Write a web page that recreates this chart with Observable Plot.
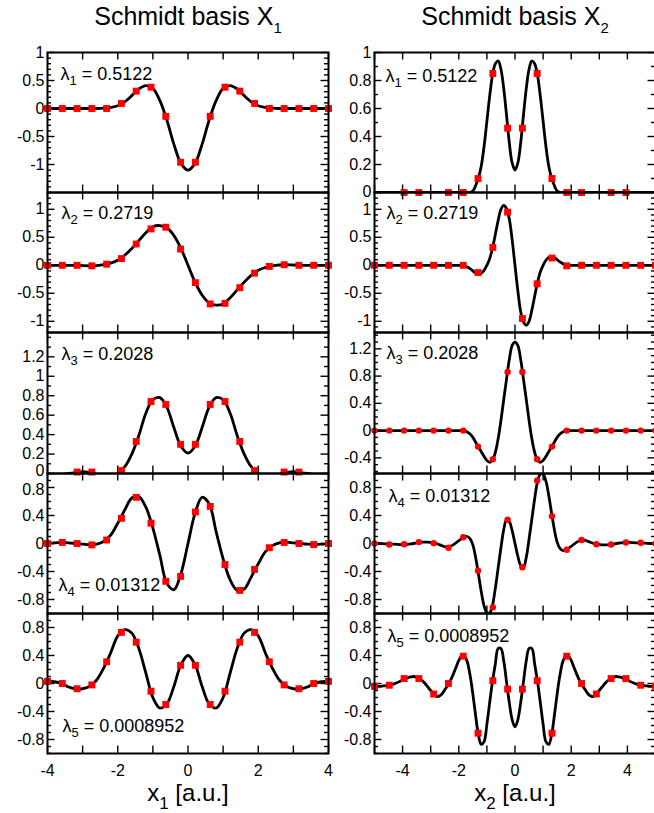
<!DOCTYPE html>
<html>
<head>
<meta charset="utf-8">
<script src="https://cdn.jsdelivr.net/npm/d3@7"></script>
<script src="https://cdn.jsdelivr.net/npm/@observablehq/plot@0.6"></script>
<style>
html,body{margin:0;padding:0;background:#fff;}
#root{position:relative;width:654px;height:813px;overflow:hidden;background:#fff;font-family:"Liberation Sans","DejaVu Sans",Arial,sans-serif;color:#000;}
.panel{position:absolute;}
.lbl{position:absolute;line-height:20px;text-align:center;white-space:nowrap;width:300px;}
.lbl .s{position:relative;}
</style>
</head>
<body>
<div id="root"></div>
<script>
// ---------- data ----------
const TITLES = ["Schmidt basis X", "Schmidt basis X"];
const AXIS_TITLES = ["x", "x"];
const LAMBDA_VALUES = ["0.5122", "0.2719", "0.2028", "0.01312", "0.0008952"];

const X_LABELS = [-4, -2, 0, 2, 4];
const LX_TICKS = [-4, -3, -2, -1, 0, 1, 2, 3, 4];
const RX_TICKS = [-5, -4, -3, -2, -1, 0, 1, 2, 3, 4, 5];

const L1_YLABELS = [-1, -0.5, 0, 0.5, 1];
const L2_YLABELS = [-1, -0.5, 0, 0.5, 1];
const L3_YLABELS = [0, 0.2, 0.4, 0.6, 0.8, 1, 1.2];
const L4_YLABELS = [-0.8, -0.4, 0, 0.4, 0.8];
const L5_YLABELS = [-0.8, -0.4, 0, 0.4, 0.8];
const R1_YLABELS = [0, 0.2, 0.4, 0.6, 0.8, 1];
const R2_YLABELS = [-1, -0.5, 0, 0.5, 1];
const R3_YLABELS = [-0.4, 0, 0.4, 0.8, 1.2];
const R4_YLABELS = [-0.8, -0.4, 0, 0.4, 0.8];
const R5_YLABELS = [-0.8, -0.4, 0, 0.4, 0.8];

// sample positions of the curves
const LX_GRID = [-4,-3.8,-3.6,-3.4,-3.2,-3,-2.8,-2.6,-2.4,-2.2,-2,-1.8,-1.6,-1.4,-1.2,-1,-0.8,-0.6,-0.4,-0.2,0,
  0.2,0.4,0.6,0.8,1,1.2,1.4,1.6,1.8,2,2.2,2.4,2.6,2.8,3,3.2,3.4,3.6,3.8,4];
const RX_GRID = [-5,-4.9,-4.8,-4.7,-4.6,-4.5,-4.4,-4.3,-4.2,-4.1,-4,-3.9,-3.8,-3.7,-3.6,-3.5,-3.4,-3.3,-3.2,-3.1,
  -3,-2.9,-2.8,-2.7,-2.6,-2.5,-2.4,-2.3,-2.2,-2.1,-2,-1.9,-1.8,-1.7,-1.6,-1.5,-1.4,-1.3,-1.2,-1.1,
  -1,-0.9,-0.8,-0.7,-0.6,-0.5,-0.4,-0.3,-0.2,-0.1,0,0.1,0.2,0.3,0.4,0.5,0.6,0.7,0.8,0.9,
  1,1.1,1.2,1.3,1.4,1.5,1.6,1.7,1.8,1.9,2,2.1,2.2,2.3,2.4,2.5,2.6,2.7,2.8,2.9,
  3,3.1,3.2,3.3,3.4,3.5,3.6,3.7,3.8,3.9,4,4.1,4.2,4.3,4.4,4.5,4.6,4.7,4.8,4.9,5];

// marker positions
const LX_MARK = [-4,-3.579,-3.158,-2.737,-2.316,-1.895,-1.474,-1.053,-0.632,-0.211,
  0.211,0.632,1.053,1.474,1.895,2.316,2.737,3.158,3.579,4];
const RX_MARK = [-5,-4.474,-3.947,-3.421,-2.895,-2.368,-1.842,-1.316,-0.789,-0.263,
  0.263,0.789,1.316,1.842,2.368,2.895,3.421,3.947,4.474,5];

// Schmidt basis X1 curves
const L1_CURVE = [0,0,0,0,0,0,0,0,0.005,0.02,
  0.05,0.12,0.23,0.35,0.41,0.36,0.14,-0.21,-0.64,-0.98,
  -1.10,-0.98,-0.64,-0.21,0.14,0.36,0.41,0.35,0.23,0.12,
  0.05,0.02,0.005,0,0,0,0,0,0,0,
  0];
const L2_CURVE = [0,0,0,0,0,-0.005,-0.01,-0.005,0.01,0.04,
  0.09,0.18,0.30,0.44,0.58,0.69,0.71,0.67,0.53,0.30,
  0,-0.30,-0.53,-0.67,-0.71,-0.69,-0.58,-0.44,-0.30,-0.18,
  -0.09,-0.04,-0.01,0.005,0.01,0.005,0,0,0,0,
  0];
const L3_CURVE = [-0.01,-0.01,-0.01,0,0.01,0.02,0.01,-0.01,-0.03,-0.03,
  0,0.07,0.20,0.39,0.62,0.76,0.78,0.68,0.47,0.28,
  0.21,0.28,0.47,0.68,0.78,0.76,0.62,0.39,0.20,0.07,
  0,-0.03,-0.03,-0.01,0.01,0.02,0.01,0,-0.01,-0.01,
  -0.01];
const L4_CURVE = [0,0.01,0.015,0.01,0,-0.01,-0.02,-0.01,0.03,0.12,
  0.29,0.48,0.65,0.67,0.52,0.22,-0.17,-0.57,-0.66,-0.43,
  0,0.43,0.66,0.57,0.17,-0.22,-0.52,-0.67,-0.65,-0.48,
  -0.29,-0.12,-0.03,0.01,0.02,0.01,0,-0.01,-0.015,-0.01,
  0];
const L5_CURVE = [0.03,0.025,0,-0.05,-0.075,-0.075,-0.04,0.05,0.22,0.44,
  0.68,0.77,0.72,0.50,0.15,-0.20,-0.35,-0.29,-0.04,0.27,
  0.40,0.27,-0.04,-0.29,-0.35,-0.20,0.15,0.50,0.72,0.77,
  0.68,0.44,0.22,0.05,-0.04,-0.075,-0.075,-0.05,0,0.025,
  0.03];

const L1_MARK = [0,0,0,0,0,0.09,0.31,0.38,-0.14,-0.96,-0.96,-0.14,0.38,0.31,0.09,0,0,0,0,0];
const L2_MARK = [0,0,0,-0.01,0.02,0.12,0.38,0.65,0.68,0.29,-0.31,-0.69,-0.68,-0.40,-0.14,-0.02,0.01,0,0,0];
const L3_MARK = [-0.03,-0.03,0.015,0.015,-0.03,0.03,0.33,0.74,0.71,0.30,0.30,0.71,0.74,0.33,0.03,-0.03,0.015,0.015,-0.03,-0.03];
const L4_MARK = [0,0.015,0,-0.02,0.05,0.36,0.66,0.29,-0.54,-0.47,0.45,0.53,-0.30,-0.67,-0.37,-0.06,0.015,0,-0.015,0];
const L5_MARK = [0.03,0,-0.075,-0.02,0.31,0.73,0.59,-0.11,-0.30,0.26,0.26,-0.30,-0.11,0.59,0.73,0.31,-0.02,-0.075,0,0.03];

// Schmidt basis X2 curves
const R1_CURVE = [0,0,0,0,0,0,0,0,0,0,
  0,0,0,0,0,0,0,0,0,0,
  0,0,0,0,0,0,0,0,0,0,
  0,0,0,0,0,0.01,0.05,0.105,0.19,0.33,
  0.51,0.69,0.84,0.92,0.94,0.88,0.74,0.55,0.35,0.21,
  0.16,0.21,0.35,0.55,0.74,0.88,0.94,0.92,0.84,0.69,
  0.51,0.33,0.19,0.105,0.05,0.01,0,0,0,0,
  0,0,0,0,0,0,0,0,0,0,
  0,0,0,0,0,0,0,0,0,0,
  0,0,0,0,0,0,0,0,0,0,
  0];
const R2_CURVE = [0,0,0,0,0,0,0,0,0,0,
  0,0,0,0,0,0,0,0,0,0,
  0,0,0,0,0,0,0,0,0,0,
  0,0,-0.01,-0.03,-0.06,-0.10,-0.14,-0.15,-0.14,-0.09,
  0,0.12,0.31,0.55,0.80,1.0,1.07,1.01,0.82,0.45,
  0,-0.45,-0.82,-1.01,-1.07,-1.0,-0.80,-0.55,-0.31,-0.12,
  0,0.09,0.14,0.15,0.14,0.10,0.06,0.03,0.01,0,
  0,0,0,0,0,0,0,0,0,0,
  0,0,0,0,0,0,0,0,0,0,
  0,0,0,0,0,0,0,0,0,0,
  0];
const R3_CURVE = [0,0,0,0,0,0,0,0,0,0,
  0,0,0,0,0,0,0,0,0,0,
  0,0,0,0,0,0,0,0,0,0,
  0,0,-0.005,-0.02,-0.05,-0.10,-0.17,-0.24,-0.31,-0.38,
  -0.44,-0.465,-0.43,-0.32,-0.12,0.15,0.46,0.76,1.05,1.25,
  1.30,1.25,1.05,0.76,0.46,0.15,-0.12,-0.32,-0.43,-0.465,
  -0.44,-0.38,-0.31,-0.24,-0.17,-0.10,-0.05,-0.02,-0.005,0,
  0,0,0,0,0,0,0,0,0,0,
  0,0,0,0,0,0,0,0,0,0,
  0,0,0,0,0,0,0,0,0,0,
  0];
const R4_CURVE = [0,0,0,-0.003,-0.005,-0.008,-0.01,-0.01,-0.012,-0.015,
  -0.015,-0.015,-0.01,-0.005,0,0.01,0.015,0.02,0.02,0.02,
  0.015,0.01,0,-0.015,-0.03,-0.045,-0.05,-0.04,-0.02,0.01,
  0.04,0.07,0.095,0.10,0.07,-0.02,-0.20,-0.44,-0.69,-0.89,
  -0.99,-0.99,-0.88,-0.64,-0.35,-0.06,0.20,0.34,0.31,0.18,
  0,-0.18,-0.31,-0.34,-0.20,0.06,0.35,0.64,0.88,0.99,
  0.99,0.89,0.69,0.44,0.20,0.02,-0.07,-0.10,-0.095,-0.07,
  -0.04,-0.01,0.02,0.04,0.05,0.045,0.03,0.015,0,-0.01,
  -0.015,-0.02,-0.02,-0.02,-0.015,-0.01,0,0.005,0.01,0.015,
  0.015,0.015,0.012,0.01,0.01,0.008,0.005,0.003,0,0,
  0];
const R5_CURVE = [-0.04,-0.04,-0.04,-0.035,-0.03,-0.025,-0.015,-0.005,0.01,0.03,
  0.05,0.07,0.085,0.095,0.10,0.09,0.07,0.04,0,-0.05,
  -0.10,-0.15,-0.185,-0.18,-0.15,-0.09,-0.03,0.04,0.13,0.23,
  0.33,0.39,0.39,0.31,0.12,-0.15,-0.46,-0.74,-0.87,-0.83,
  -0.58,-0.27,0.03,0.28,0.50,0.50,0.32,0.02,-0.28,-0.52,
  -0.62,-0.52,-0.28,0.02,0.32,0.50,0.50,0.28,0.03,-0.27,
  -0.58,-0.83,-0.87,-0.74,-0.46,-0.15,0.12,0.31,0.39,0.39,
  0.33,0.23,0.13,0.04,-0.03,-0.09,-0.15,-0.18,-0.185,-0.15,
  -0.10,-0.05,0,0.04,0.07,0.09,0.10,0.095,0.085,0.07,
  0.05,0.03,0.01,-0.005,-0.015,-0.025,-0.03,-0.035,-0.04,-0.04,
  -0.04];

const R1_MARK = [-0.03,-0.03,0,0,-0.03,0,0,0.10,0.85,0.46,0.46,0.85,0.10,0,0,-0.03,0,0,-0.03,-0.03];
const R2_MARK = [0,0,0,0,0,0,0,-0.13,0.32,0.95,-0.95,-0.33,0.13,-0.01,0,0,0,0,0,0];
const R3_MARK = [0,0,0,0,0,0,0,-0.235,-0.42,0.86,0.86,-0.42,-0.235,0,0,0,0,0,0,0];
const R4_MARK = [0,-0.015,-0.01,0.02,0.005,-0.06,0.09,-0.39,-0.91,0.34,-0.34,0.90,0.39,-0.09,0.05,-0.01,-0.015,0.015,0.01,0];
const R5_MARK = [-0.04,-0.025,0.07,0.07,-0.15,0,0.39,-0.71,0.04,-0.08,-0.08,0.04,-0.71,0.39,0,-0.15,0.07,0.07,-0.025,-0.04];

// ---------- layout ----------
const root = document.getElementById("root");
const ROW_TOPS = [52, 192, 332, 473, 613, 753];
const FRAME_W = 281;
const COLS = {
  L: {left: 47, xDomain: [-4, 4], grid: LX_GRID, markX: LX_MARK, xTicks: LX_TICKS, center: 188, sub: "1"},
  R: {left: 374, xDomain: [-5, 5], grid: RX_GRID, markX: RX_MARK, xTicks: RX_TICKS, center: 515, sub: "2"}
};
// edge: a label sitting on a shared panel border, nudged a little to keep clear of its neighbour
const PANELS = [
  {col: "L", row: 0, curve: L1_CURVE, marks: L1_MARK, yDomain: [-1.5, 1], yLabels: L1_YLABELS, symbol: "square", li: 0, lx: 13, ly: 27},
  {col: "L", row: 1, curve: L2_CURVE, marks: L2_MARK, yDomain: [-1.2, 1.3], yLabels: L2_YLABELS, symbol: "square", li: 1, lx: 14, ly: 26},
  {col: "L", row: 2, curve: L3_CURVE, marks: L3_MARK, yDomain: [0, 1.45], yLabels: L3_YLABELS, symbol: "square", li: 2, lx: 14, ly: 27, edge: {v: 0, dy: -2.5}},
  {col: "L", row: 3, curve: L4_CURVE, marks: L4_MARK, yDomain: [-1, 1], yLabels: L4_YLABELS, symbol: "square", li: 3, lx: 11, ly: 117, edge: {v: 0.8, dy: 2.5}},
  {col: "L", row: 4, curve: L5_CURVE, marks: L5_MARK, yDomain: [-1, 1], yLabels: L5_YLABELS, symbol: "square", li: 4, lx: 15, ly: 118},
  {col: "R", row: 0, curve: R1_CURVE, marks: R1_MARK, yDomain: [0, 1], yLabels: R1_YLABELS, symbol: "square", li: 0, lx: 11, ly: 29, edge: {v: 0, dy: -1}},
  {col: "R", row: 1, curve: R2_CURVE, marks: R2_MARK, yDomain: [-1.2, 1.3], yLabels: R2_YLABELS, symbol: "square", li: 1, lx: 12, ly: 26, edge: {v: 1, dy: 0.5}},
  {col: "R", row: 2, curve: R3_CURVE, marks: R3_MARK, yDomain: [-0.63, 1.44], yLabels: R3_YLABELS, symbol: "circle", li: 2, lx: 12, ly: 26},
  {col: "R", row: 3, curve: R4_CURVE, marks: R4_MARK, yDomain: [-1, 1], yLabels: R4_YLABELS, symbol: "circle", li: 3, lx: 14, ly: 28},
  {col: "R", row: 4, curve: R5_CURVE, marks: R5_MARK, yDomain: [-1, 1], yLabels: R5_YLABELS, symbol: "square", li: 4, lx: 13, ly: 28}
];

const fmt = d => String(d);
const SVGNS = "http://www.w3.org/2000/svg";
const FONT = "'Liberation Sans','DejaVu Sans',Arial,sans-serif";
const TICK_FS = 16;

function drawPanel(p) {
  const C = COLS[p.col];
  const top = ROW_TOPS[p.row], H = ROW_TOPS[p.row + 1] - top, W = FRAME_W;
  const last = p.row === 4;
  const ML = 50, MR = 10, MT = 14, MB = last ? 34 : 14;
  const [y0, y1] = p.yDomain;
  const lineData = C.grid.map((x, i) => ({x, y: p.curve[i]}));
  const markData = C.markX.map((x, i) => ({x, y: p.marks[i]}));
  const minor = d3.range(Math.ceil(y0 * 10 - 1e-6), Math.floor(y1 * 10 + 1e-6) + 1)
    .map(k => k / 10)
    .filter(v => !p.yLabels.some(l => Math.abs(l - v) < 1e-6));
  const tk = {stroke: "black", strokeWidth: 1.4};
  const lam = `λ${p.li + 1} = ${LAMBDA_VALUES[p.li]}`;
  const plainLabels = p.edge ? p.yLabels.filter(v => v !== p.edge.v) : p.yLabels;
  const axOpts = {tickSize: 0, tickPadding: 3, tickFormat: fmt, label: null, fontSize: TICK_FS, fontFamily: FONT};
  const marks = [
    Plot.tickY(minor, {y: d => d, insetRight: W - 4, ...tk}),
    Plot.tickY(minor, {y: d => d, insetLeft: W - 4, ...tk}),
    Plot.tickY(p.yLabels, {y: d => d, insetRight: W - 7.5, ...tk}),
    Plot.tickY(p.yLabels, {y: d => d, insetLeft: W - 7.5, ...tk}),
    Plot.tickX(C.xTicks, {x: d => d, insetBottom: H - 7.5, ...tk}),
    Plot.tickX(C.xTicks, {x: d => d, insetTop: H - 7.5, ...tk}),
    Plot.line(lineData, {x: "x", y: "y", curve: "catmull-rom", stroke: "black", strokeWidth: 2.8, clip: true}),
    Plot.dot(markData, {x: "x", y: "y", symbol: p.symbol, r: p.symbol === "square" ? 3.9 : 3.2, fill: "#ff0000",
      filter: d => d.y >= y0 - 1e-9 && d.y <= y1 + 1e-9}),
    Plot.frame({stroke: "black", strokeWidth: 2}),
    Plot.axisY({ticks: plainLabels, ...axOpts}),
    Plot.text([lam], {text: d => d, frameAnchor: "top-left", dx: p.lx, dy: p.ly, textAnchor: "start", lineAnchor: "bottom", fontSize: 18, fontFamily: FONT})
  ];
  if (p.edge) marks.push(Plot.axisY({ticks: [p.edge.v], dy: p.edge.dy, ...axOpts}));
  if (last) marks.push(Plot.axisX({ticks: X_LABELS, tickSize: 0, tickPadding: 11, tickFormat: fmt, label: null, fontSize: TICK_FS, fontFamily: FONT}));
  const svg = Plot.plot({
    width: ML + W + MR, height: MT + H + MB,
    marginLeft: ML, marginRight: MR, marginTop: MT, marginBottom: MB,
    x: {domain: C.xDomain, axis: null},
    y: {domain: p.yDomain, axis: null},
    style: {background: "transparent", overflow: "visible", fontFamily: FONT, fontSize: TICK_FS + "px", color: "black"},
    marks
  });
  svg.querySelectorAll("text").forEach(t => {
    const m = /^λ(\d)(.*)$/.exec(t.textContent);
    if (!m) return;
    t.textContent = "λ";
    const sub = document.createElementNS(SVGNS, "tspan");
    sub.setAttribute("font-size", "13");
    sub.setAttribute("dy", "5");
    sub.textContent = m[1];
    const rest = document.createElementNS(SVGNS, "tspan");
    rest.setAttribute("dy", "-5");
    rest.textContent = m[2];
    t.append(sub, rest);
  });
  const div = document.createElement("div");
  div.className = "panel";
  div.style.left = (C.left - ML) + "px";
  div.style.top = (top - MT) + "px";
  div.style.width = (ML + W + MR) + "px";
  div.appendChild(svg);
  root.appendChild(div);
}
PANELS.forEach(drawPanel);

// titles and axis titles
["L", "R"].forEach((k, i) => {
  const C = COLS[k];
  const t = document.createElement("div");
  t.className = "lbl";
  t.style.fontSize = "25px";
  t.style.left = (C.center - 150) + "px";
  t.style.top = "6px";
  t.innerHTML = `${TITLES[i]}<span class="s" style="font-size:15px;top:8px">${C.sub}</span>`;
  root.appendChild(t);
  const a = document.createElement("div");
  a.className = "lbl";
  a.style.fontSize = "24px";
  a.style.left = (C.center - 150) + "px";
  a.style.top = "783px";
  a.innerHTML = `${AXIS_TITLES[i]}<span class="s" style="font-size:17px;top:8px">${C.sub}</span> [a.u.]`;
  root.appendChild(a);
});
</script>
</body>
</html>
